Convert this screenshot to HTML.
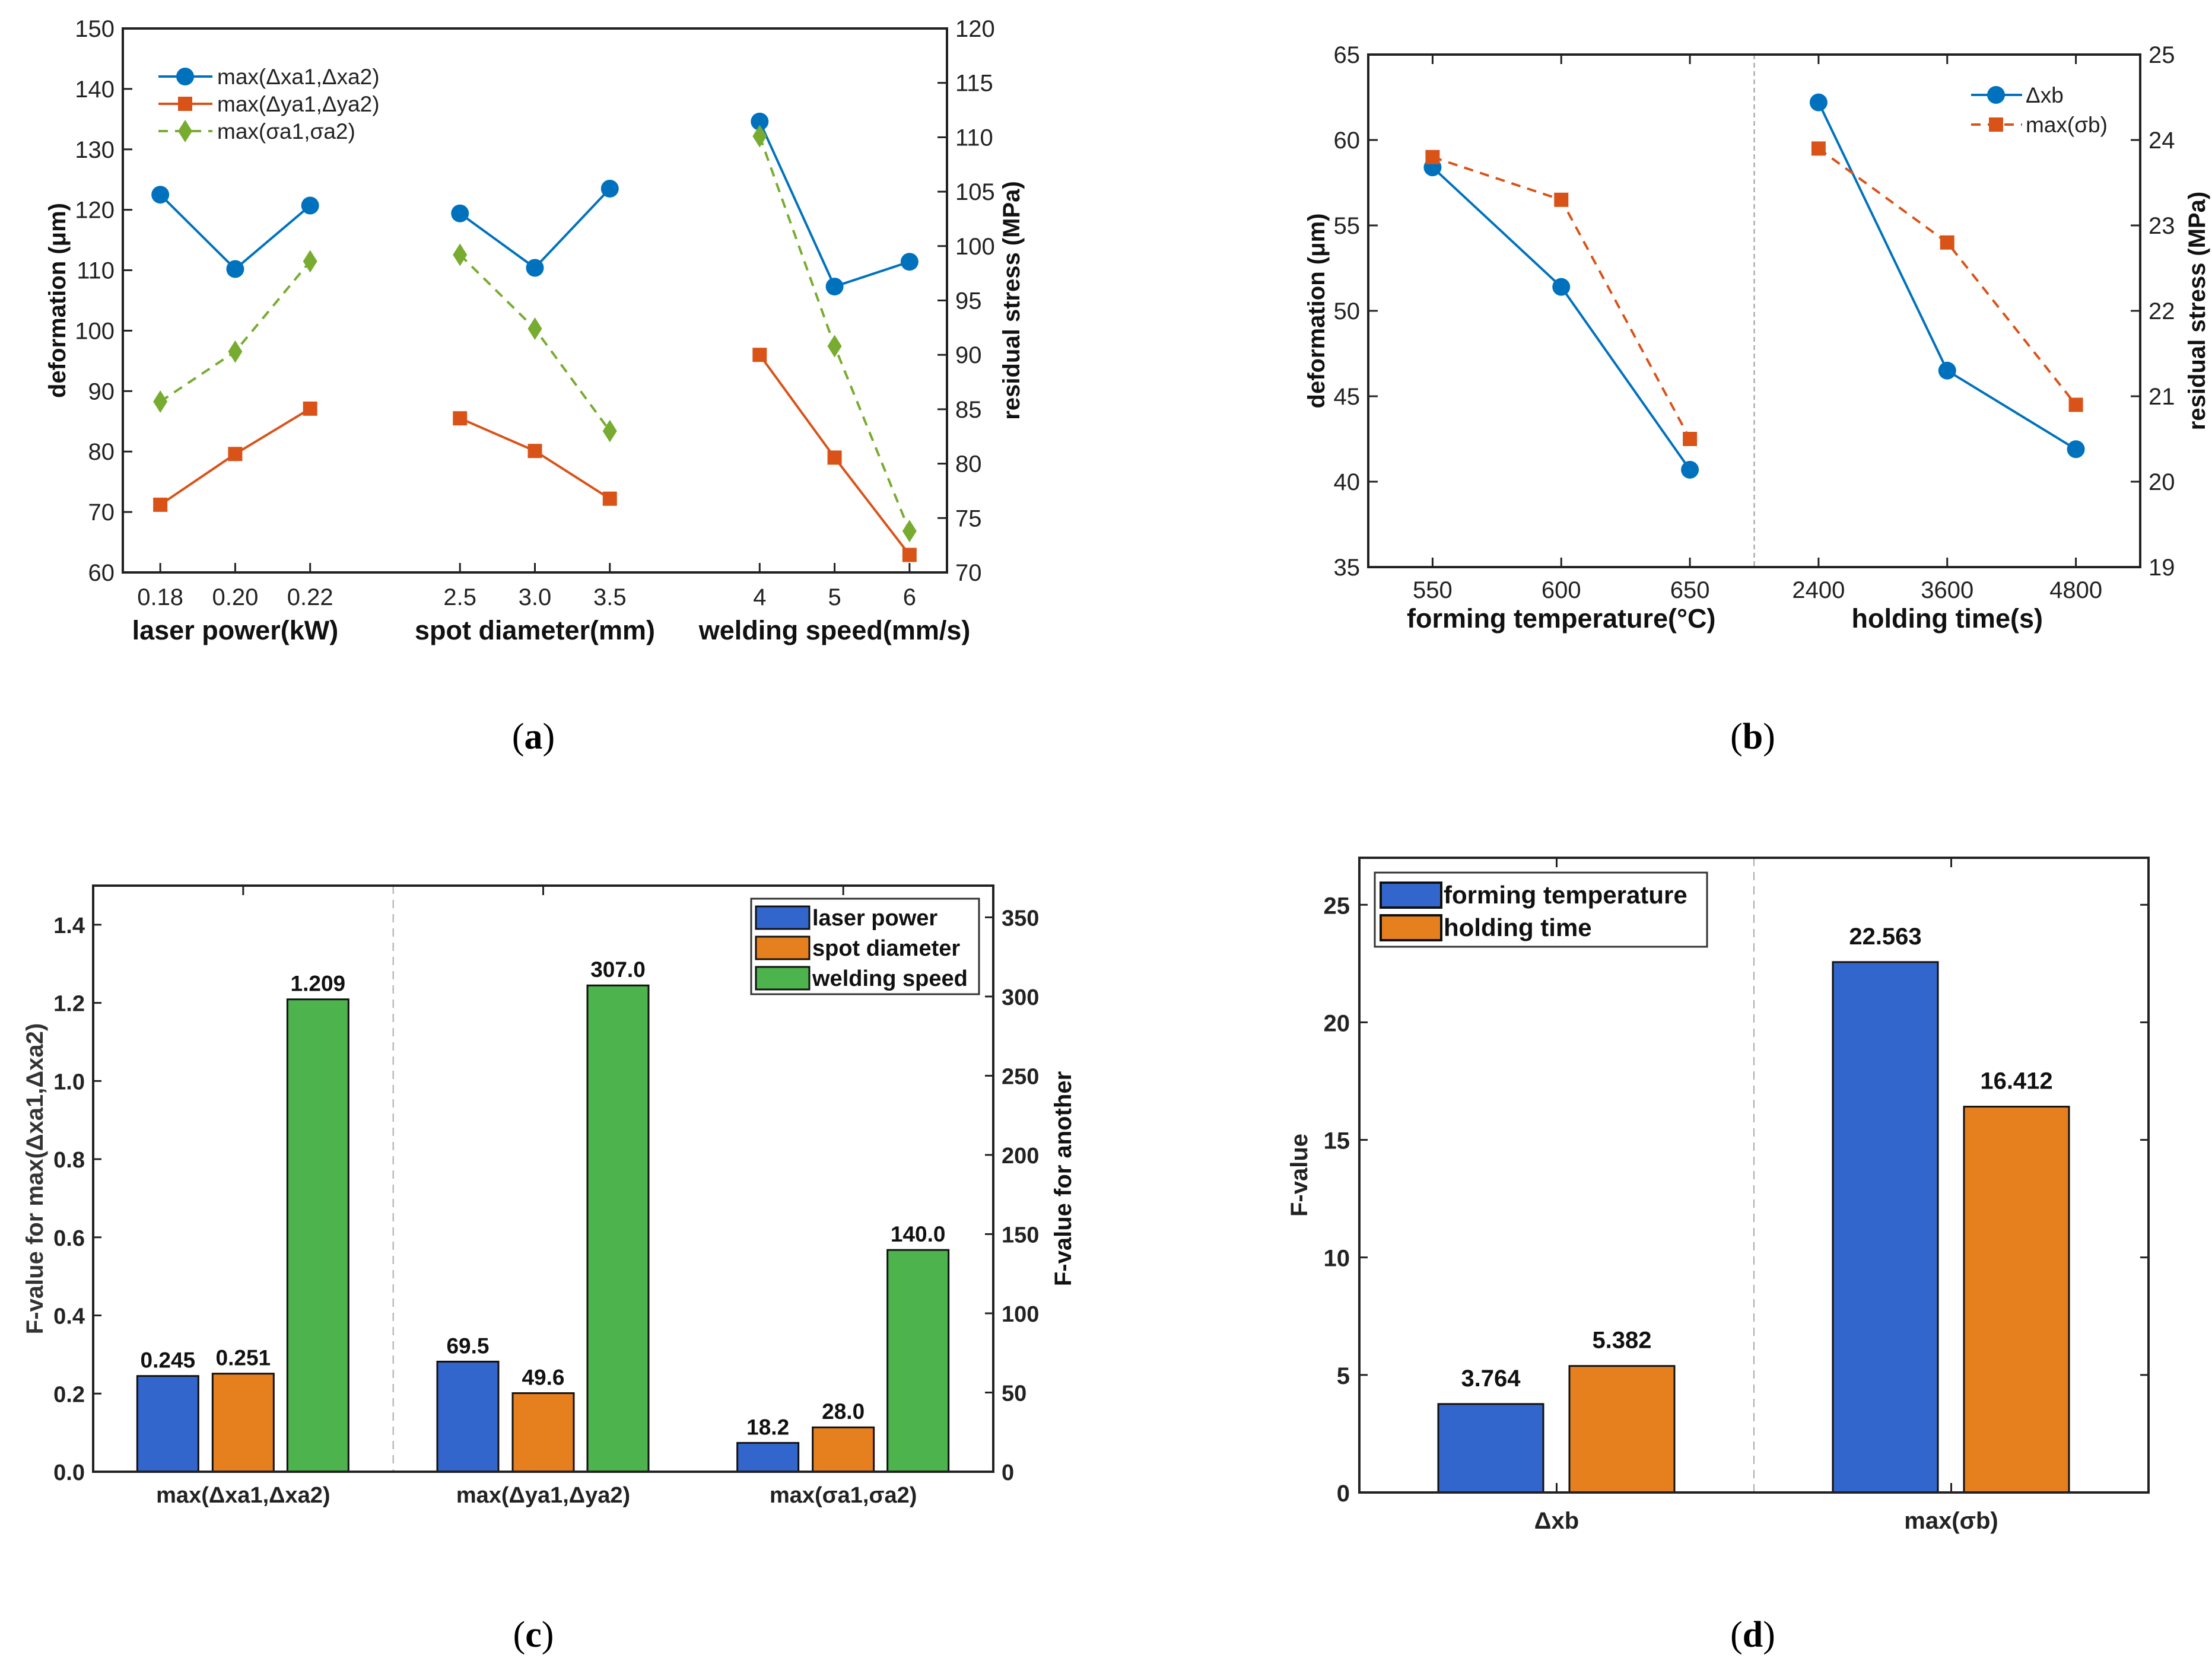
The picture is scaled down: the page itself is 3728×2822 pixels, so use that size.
<!DOCTYPE html>
<html><head><meta charset="utf-8"><style>
html,body{margin:0;padding:0;background:#fff;}
svg{display:block;}
.n{font-family:"Liberation Sans Narrow","Liberation Sans",sans-serif;}
.w{font-family:"Liberation Sans",sans-serif;font-weight:bold;}
.cap{font-family:"Liberation Serif",serif;}
</style></head><body>
<svg id="fig" xmlns="http://www.w3.org/2000/svg" width="3728" height="2822" viewBox="0 0 3728 2822">
<rect x="0" y="0" width="3728" height="2822" fill="#fff"/>
<text class="cap" x="899" y="1262" font-size="62" text-anchor="middle">(<tspan font-weight="bold">a</tspan>)</text>
<text class="cap" x="2954" y="1262" font-size="62" text-anchor="middle">(<tspan font-weight="bold">b</tspan>)</text>
<text class="cap" x="899" y="2776" font-size="62" text-anchor="middle">(<tspan font-weight="bold">c</tspan>)</text>
<text class="cap" x="2954" y="2776" font-size="62" text-anchor="middle">(<tspan font-weight="bold">d</tspan>)</text>
</svg>
<script>
// ---- Panel (a) data ----
const aTickLabels = ['0.18','0.20','0.22','2.5','3.0','3.5','4','5','6'];
const aSlots = [0,1,2,4,5,6,8,9,10];
const aXa = [122.5,110.2,120.7,119.4,110.4,123.5,134.6,107.3,111.4];
const aYa = [71.2,79.6,87.1,85.5,80.1,72.2,96.0,79.0,62.9];
const aSigma = [85.7,90.3,98.6,99.2,92.4,83.0,110.1,90.8,73.8];
const aLeftTicks = [60,70,80,90,100,110,120,130,140,150];
const aRightTicks = [70,75,80,85,90,95,100,105,110,115,120];
// ---- Panel (b) data ----
const bTickLabels = ['550','600','650','2400','3600','4800'];
const bSlots = [0,1,2,3,4,5];
const bXb = [58.4,51.4,40.7,62.2,46.5,41.9];
const bSigma = [23.8,23.3,20.5,23.9,22.8,20.9];
const bLeftTicks = [35,40,45,50,55,60,65];
const bRightTicks = [19,20,21,22,23,24,25];
// ---- Panel (c) data ----
const cGroups = ['max(Δxa1,Δxa2)','max(Δya1,Δya2)','max(σa1,σa2)'];
const cLaser = [0.245,69.5,18.2];
const cSpot = [0.251,49.6,28.0];
const cWeld = [1.209,307.0,140.0];
const cLaserLbl = ['0.245','69.5','18.2'];
const cSpotLbl = ['0.251','49.6','28.0'];
const cWeldLbl = ['1.209','307.0','140.0'];
const cLeftTicks = [0,0.2,0.4,0.6,0.8,1.0,1.2,1.4];
const cRightTicks = [0,50,100,150,200,250,300,350];
// ---- Panel (d) data ----
const dGroups = ['Δxb','max(σb)'];
const dForm = [3.764,22.563];
const dHold = [5.382,16.412];
const dFormLbl = ['3.764','22.563'];
const dHoldLbl = ['5.382','16.412'];
const dTicks = [0,5,10,15,20,25];

const NS='http://www.w3.org/2000/svg';
const svg=document.getElementById('fig');
function mk(tag,attrs,parent){const e=document.createElementNS(NS,tag);for(const k in attrs)e.setAttribute(k,attrs[k]);(parent||svg).appendChild(e);return e;}
function txt(s,attrs,parent){const e=mk('text',attrs,parent);e.textContent=s;return e;}
function lin(d0,d1,r0,r1){return v=>r0+(v-d0)/(d1-d0)*(r1-r0);}
const BLUE='#0072BD',ORG='#D95319',GRN='#77AC30';

function marker(g,type,x,y,color){
  let e;
  if(type==='o'){e=mk('circle',{cx:x,cy:y,r:15,fill:color},g);}
  else if(type==='s'){e=mk('rect',{x:x-12,y:y-12,width:24,height:24,fill:color},g);}
  else {e=mk('polygon',{points:`${x},${y-19} ${x+12},${y} ${x},${y+19} ${x-12},${y}`,fill:color},g);}
  return e;
}

// ================= Panel A =================
(function(){
  const L=207,R=1596,T=48,B=965;
  const g=mk('g',{});
  
  
  const x=lin(-0.5,10.5,L,R), yl=lin(60,150,B,T), yr=lin(70,120,B,T);
  const box=mk('rect',{x:L,y:T,width:R-L,height:B-T,fill:'none',stroke:'#222',"stroke-width":4},g);
  
  
  aLeftTicks.forEach(v=>{
    const t=mk('line',{x1:L,x2:L+16,y1:yl(v),y2:yl(v),stroke:'#222','stroke-width':3},g);
    
    
    const l=txt(String(v),{x:L-14,y:yl(v)+14,'font-size':40,'text-anchor':'end',class:'n',fill:'#222'},g);
    
    
  });
  aRightTicks.forEach(v=>{
    const t=mk('line',{x1:R,x2:R-16,y1:yr(v),y2:yr(v),stroke:'#222','stroke-width':3},g);
    
    
    const l=txt(String(v),{x:R+14,y:yr(v)+14,'font-size':40,class:'n',fill:'#222'},g);
    
    
  });
  aSlots.forEach((s,i)=>{
    const t=mk('line',{x1:x(s),x2:x(s),y1:B,y2:B-16,stroke:'#222','stroke-width':3},g);
    
    
    const l=txt(aTickLabels[i],{x:x(s),y:1020,'font-size':40,'text-anchor':'middle',class:'n',fill:'#222'},g);
    
    
  });
  const groupsA=[['laser power(kW)',1],['spot diameter(mm)',5],['welding speed(mm/s)',9]];
  groupsA.forEach(gg=>{
    const l=txt(gg[0],{x:x(gg[1]),y:1078,'font-size':45,'text-anchor':'middle',class:'n','font-weight':'bold',fill:'#111'},g);
    
    
  });
  const yt=txt('deformation (μm)',{x:0,y:0,'font-size':40,'text-anchor':'middle',class:'w',fill:'#111',transform:`translate(110,${(T+B)/2}) rotate(-90)`},g);
  
  
  const yt2=txt('residual stress (MPa)',{x:0,y:0,'font-size':40,'text-anchor':'middle',class:'w',fill:'#111',transform:`translate(1718,${(T+B)/2}) rotate(-90)`},g);
  
  
  const series=[[aXa,yl,BLUE,'o',''],[aYa,yl,ORG,'s',''],[aSigma,yr,GRN,'d','16,12']];
  series.forEach(ss=>{
    const [vals,ys,col,mt,dash]=ss;
    for(let k=0;k<3;k++){
      const idx=[k*3,k*3+1,k*3+2];
      const pts=idx.map(i=>x(aSlots[i])+','+ys(vals[i])).join(' ');
      const p=mk('polyline',{points:pts,fill:'none',stroke:col,'stroke-width':4,'stroke-dasharray':dash},g);
      
      
      idx.forEach(i=>{
        const m=marker(g,mt,x(aSlots[i]),ys(vals[i]),col);
        
        
      });
    }
  });
  const leg=[['max(Δxa1,Δxa2)',BLUE,'o',''],['max(Δya1,Δya2)',ORG,'s',''],['max(σa1,σa2)',GRN,'d','16,12']];
  leg.forEach((e,i)=>{
    const y=129+i*46;
    const l=mk('line',{x1:267,x2:358,y1:y,y2:y,stroke:e[1],'stroke-width':4,'stroke-dasharray':e[3]},g);
    
    
    const m=marker(g,e[2],312,y,e[1]);
    
    
    const t=txt(e[0],{x:366,y:y+13,'font-size':37,class:'n',fill:'#222'},g);
    
    
  });
})();

// ================= Panel B =================
(function(){
  const L=2306,R=3607,T=92,B=956;
  const g=mk('g',{});
  
  
  const x=lin(-0.5,5.5,L,R), yl=lin(35,65,B,T), yr=lin(19,25,B,T);
  const dv=mk('line',{x1:x(2.5),x2:x(2.5),y1:T,y2:B,stroke:'#999','stroke-width':2,'stroke-dasharray':'8,6'},g);
  
  
  const box=mk('rect',{x:L,y:T,width:R-L,height:B-T,fill:'none',stroke:'#222',"stroke-width":4},g);
  
  
  bLeftTicks.forEach(v=>{
    const t=mk('line',{x1:L,x2:L+16,y1:yl(v),y2:yl(v),stroke:'#222','stroke-width':3},g);
    
    
    const l=txt(String(v),{x:L-14,y:yl(v)+14,'font-size':40,'text-anchor':'end',class:'n',fill:'#222'},g);
    
    
  });
  bRightTicks.forEach(v=>{
    const t=mk('line',{x1:R,x2:R-16,y1:yr(v),y2:yr(v),stroke:'#222','stroke-width':3},g);
    
    
    const l=txt(String(v),{x:R+14,y:yr(v)+14,'font-size':40,class:'n',fill:'#222'},g);
    
    
  });
  bSlots.forEach((s,i)=>{
    [[B,B-16],[T,T+16]].forEach(yy=>{
      const t=mk('line',{x1:x(s),x2:x(s),y1:yy[0],y2:yy[1],stroke:'#222','stroke-width':3},g);
      
      
    });
    const l=txt(bTickLabels[i],{x:x(s),y:1008,'font-size':40,'text-anchor':'middle',class:'n',fill:'#222'},g);
    
    
  });
  [['forming temperature(°C)',1],['holding time(s)',4]].forEach(gg=>{
    const l=txt(gg[0],{x:x(gg[1]),y:1058,'font-size':45,'text-anchor':'middle',class:'n','font-weight':'bold',fill:'#111'},g);
    
    
  });
  const yt=txt('deformation (μm)',{x:0,y:0,'font-size':40,'text-anchor':'middle',class:'w',fill:'#111',transform:`translate(2232,${(T+B)/2}) rotate(-90)`},g);
  
  
  const yt2=txt('residual stress (MPa)',{x:0,y:0,'font-size':40,'text-anchor':'middle',class:'w',fill:'#111',transform:`translate(3716,${(T+B)/2}) rotate(-90)`},g);
  
  
  [[bXb,yl,BLUE,'o',''],[bSigma,yr,ORG,'s','16,12']].forEach(ss=>{
    const [vals,ys,col,mt,dash]=ss;
    for(let k=0;k<2;k++){
      const idx=[k*3,k*3+1,k*3+2];
      const pts=idx.map(i=>x(bSlots[i])+','+ys(vals[i])).join(' ');
      const p=mk('polyline',{points:pts,fill:'none',stroke:col,'stroke-width':4,'stroke-dasharray':dash},g);
      
      
      idx.forEach(i=>{
        const m=marker(g,mt,x(bSlots[i]),ys(vals[i]),col);
        
        
      });
    }
  });
  [['Δxb',BLUE,'o',''],['max(σb)',ORG,'s','16,12']].forEach((e,i)=>{
    const y=160+i*50;
    const l=mk('line',{x1:3322,x2:3408,y1:y,y2:y,stroke:e[1],'stroke-width':4,'stroke-dasharray':e[3]},g);
    
    
    const m=marker(g,e[2],3364,y,e[1]);
    
    
    const t=txt(e[0],{x:3414,y:y+13,'font-size':37,class:'n',fill:'#222'},g);
    
    
  });
})();

// ================= Panel C =================
(function(){
  const L=157,R=1674,T=1493,B=2481;
  const g=mk('g',{});
  
  
  const x=lin(-0.5,2.5,L,R), yl=lin(0,1.5,B,T), yr=lin(0,370,B,T);
  const dv=mk('line',{x1:x(0.5),x2:x(0.5),y1:T,y2:B,stroke:'#aaa','stroke-width':2,'stroke-dasharray':'14,10'},g);
  
  
  const BW=103, off=[-127,0,126];
  const cols=['#3366CC','#E6801F','#4DB34D'];
  const sets=[cLaser,cSpot,cWeld], lbls=[cLaserLbl,cSpotLbl,cWeldLbl];
  cGroups.forEach((name,gi)=>{
    const ys = gi===0?yl:yr;
    sets.forEach((vals,si)=>{
      const cx=x(gi)+off[si], top=ys(vals[gi]);
      const r=mk('rect',{x:cx-BW/2,y:top,width:BW,height:B-top,fill:cols[si],stroke:'#111','stroke-width':3},g);
      
      
      const t=txt(lbls[si][gi],{x:cx,y:top-14,'font-size':37,'text-anchor':'middle',class:'n','font-weight':'bold',fill:'#111'},g);
      
      
    });
    const tk=mk('line',{x1:x(gi),x2:x(gi),y1:T,y2:T+16,stroke:'#222','stroke-width':3},g);
    
    
    const l=txt(name,{x:x(gi),y:2533,'font-size':38,'text-anchor':'middle',class:'n','font-weight':'bold',fill:'#222'},g);
    
    
  });
  const box=mk('rect',{x:L,y:T,width:R-L,height:B-T,fill:'none',stroke:'#222',"stroke-width":4},g);
  
  
  cLeftTicks.forEach(v=>{
    const t=mk('line',{x1:L,x2:L+14,y1:yl(v),y2:yl(v),stroke:'#222','stroke-width':3},g);
    
    
    const l=txt(v.toFixed(1),{x:L-14,y:yl(v)+14,'font-size':38,'text-anchor':'end',class:'n','font-weight':'bold',fill:'#222'},g);
    
    
  });
  cRightTicks.forEach(v=>{
    const t=mk('line',{x1:R,x2:R-14,y1:yr(v),y2:yr(v),stroke:'#222','stroke-width':3},g);
    
    
    const l=txt(String(v),{x:R+14,y:yr(v)+14,'font-size':38,class:'n','font-weight':'bold',fill:'#222'},g);
    
    
  });
  const yt=txt('F-value for max(Δxa1,Δxa2)',{x:0,y:0,'font-size':40,'text-anchor':'middle',class:'w',fill:'#333',transform:`translate(72,${(T+B)/2}) rotate(-90)`},g);
  
  
  const yt2=txt('F-value for another',{x:0,y:0,'font-size':40,'text-anchor':'middle',class:'w',fill:'#111',transform:`translate(1805,${(T+B)/2}) rotate(-90)`},g);
  
  
  const lb=mk('rect',{x:1266,y:1515,width:384,height:161,fill:'#fff',stroke:'#333','stroke-width':3},g);
  
  
  ['laser power','spot diameter','welding speed'].forEach((s,i)=>{
    const y=1546+i*51;
    const sw=mk('rect',{x:1274,y:y-18,width:90,height:38,fill:cols[i],stroke:'#111','stroke-width':3},g);
    
    
    const t=txt(s,{x:1369,y:y+14,'font-size':38,class:'n','font-weight':'bold',fill:'#111'},g);
    
    
  });
})();

// ================= Panel D =================
(function(){
  const L=2291,R=3621,T=1446,B=2516;
  const g=mk('g',{});
  
  
  const x=lin(-0.5,1.5,L,R), y=lin(0,27,B,T);
  const dv=mk('line',{x1:x(0.5),x2:x(0.5),y1:T,y2:B,stroke:'#aaa','stroke-width':2,'stroke-dasharray':'14,10'},g);
  
  
  const BW=177, off=[-111,110], cols=['#3366CC','#E6801F'];
  const sets=[dForm,dHold], lbls=[dFormLbl,dHoldLbl];
  dGroups.forEach((name,gi)=>{
    sets.forEach((vals,si)=>{
      const cx=x(gi)+off[si], top=y(vals[gi]);
      const r=mk('rect',{x:cx-BW/2,y:top,width:BW,height:B-top,fill:cols[si],stroke:'#111','stroke-width':3},g);
      
      
      const t=txt(lbls[si][gi],{x:cx,y:top-30,'font-size':40,'text-anchor':'middle',class:'n','font-weight':'bold',fill:'#111'},g);
      
      
    });
    [[B,B-16],[T,T+16]].forEach(yy=>{
      const tk=mk('line',{x1:x(gi),x2:x(gi),y1:yy[0],y2:yy[1],stroke:'#222','stroke-width':3},g);
      
      
    });
    const l=txt(name,{x:x(gi),y:2577,'font-size':40,'text-anchor':'middle',class:'n','font-weight':'bold',fill:'#222'},g);
    
    
  });
  const box=mk('rect',{x:L,y:T,width:R-L,height:B-T,fill:'none',stroke:'#222',"stroke-width":4},g);
  
  
  dTicks.forEach(v=>{
    [[L,L+14],[R,R-14]].forEach(xx=>{
      const t=mk('line',{x1:xx[0],x2:xx[1],y1:y(v),y2:y(v),stroke:'#222','stroke-width':3},g);
      
      
    });
    const l=txt(String(v),{x:L-16,y:y(v)+15,'font-size':40,'text-anchor':'end',class:'n','font-weight':'bold',fill:'#222'},g);
    
    
  });
  const yt=txt('F-value',{x:0,y:0,'font-size':40,'text-anchor':'middle',class:'w',fill:'#222',transform:`translate(2203,${(T+B)/2}) rotate(-90)`},g);
  
  
  const lb=mk('rect',{x:2317,y:1471,width:560,height:125,fill:'#fff',stroke:'#333','stroke-width':3},g);
  
  
  ['forming temperature','holding time'].forEach((s,i)=>{
    const yy=1508+i*55;
    const sw=mk('rect',{x:2327,y:yy-20,width:102,height:42,fill:cols[i],stroke:'#111','stroke-width':4},g);
    
    
    const t=txt(s,{x:2433,y:yy+15,'font-size':42,class:'n','font-weight':'bold',fill:'#111'},g);
    
    
  });
})();
</script>
</body></html>
